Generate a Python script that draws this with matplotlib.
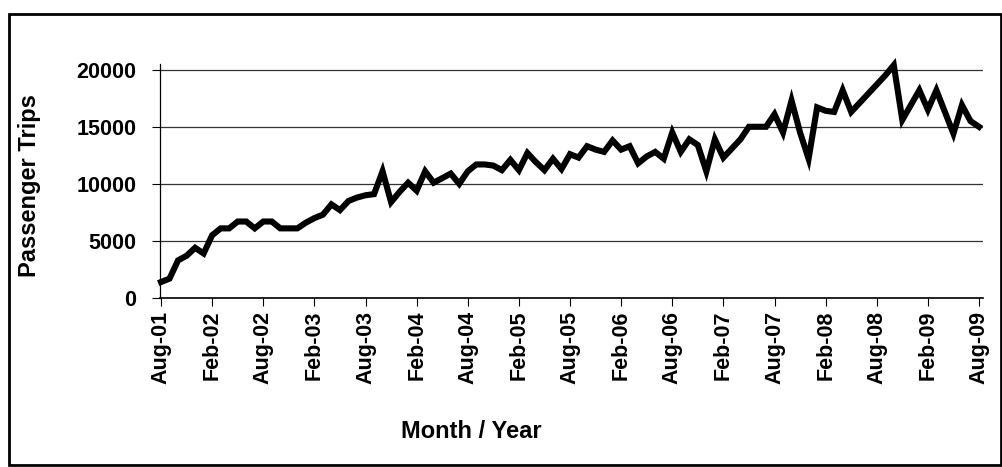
import matplotlib
matplotlib.use("Agg")
import matplotlib.pyplot as plt
import pandas as pd
from matplotlib.patches import Rectangle

plt.rcParams['font.family'] = ['Liberation Sans', 'DejaVu Sans']

# monthly passenger trips from Aug-01 to Aug-09
trips = [
    1400, 1700, 3300, 3700, 4400, 3900, 5500, 6100, 6100, 6700,
    6700, 6100, 6700, 6700, 6100, 6100, 6100, 6600, 7000, 7300,
    8200, 7700, 8500, 8800, 9000, 9100, 11100, 8400, 9300, 10100,
    9400, 11100, 10100, 10500, 10900, 10000, 11100, 11700, 11700, 11600,
    11200, 12100, 11200, 12700, 11900, 11200, 12200, 11300, 12600, 12300,
    13300, 13000, 12800, 13800, 13000, 13300, 11800, 12400, 12800, 12200,
    14500, 12800, 13900, 13400, 11100, 13900, 12300, 13100, 13900, 15000,
    15000, 15000, 16100, 14500, 17300, 14500, 12200, 16700, 16400, 16300,
    18200, 16300, 17100, 17900, 18700, 19500, 20400, 15600, 16900, 18200,
    16500, 18200, 16300, 14400, 16900, 15500, 15000,
]
months = pd.date_range("2001-08-01", periods=len(trips), freq="MS")
month_labels = [m.strftime("%b-%y") for m in months]
y_ticks = [0, 5000, 10000, 15000, 20000]

fig = plt.figure(figsize=(10.03, 4.67), dpi=100)
ax = fig.add_axes([160 / 1003, 1 - 298 / 467, 823 / 1003, 234 / 467])

x = list(range(len(trips)))
ax.plot(x, trips, color="black", lw=4.4, solid_joinstyle="miter", clip_on=False, zorder=3)

ax.set_xlim(-0.12, 96.47)
ax.set_ylim(0, 20500)

ax.set_yticks(y_ticks)
ax.set_yticklabels([str(v) for v in y_ticks], fontsize=15.5, fontweight="bold")
ax.yaxis.grid(True, color="#333333", lw=0.9)
ax.set_axisbelow(True)

tick_pos = x[::6]
ax.set_xticks(tick_pos)
ax.set_xticklabels([month_labels[i] for i in tick_pos], rotation=90,
                   fontsize=15.5, fontweight="bold")

ax.tick_params(axis="y", length=6, width=0.8, pad=11, direction="out")
ax.tick_params(axis="x", length=6, width=0.8, pad=3, direction="out")

for s in ["top", "right"]:
    ax.spines[s].set_visible(False)
ax.spines["left"].set_linewidth(0.9)
ax.spines["bottom"].set_linewidth(1.2)

fig.text(30 / 1003, 1 - 186 / 467, "Passenger Trips", rotation=90, ha="center",
         va="center", fontsize=17, fontweight="bold")
fig.text(471 / 1003, 1 - 432 / 467, "Month / Year", ha="center", va="center",
         fontsize=17, fontweight="bold")

# border around the whole figure, as in the scanned page
fig.patches.append(Rectangle((9 / 1003, 2 / 467), 992 / 1003, 451 / 467, fill=False,
                             edgecolor="black", lw=2, transform=fig.transFigure))

fig.savefig("out.png", dpi=100)
